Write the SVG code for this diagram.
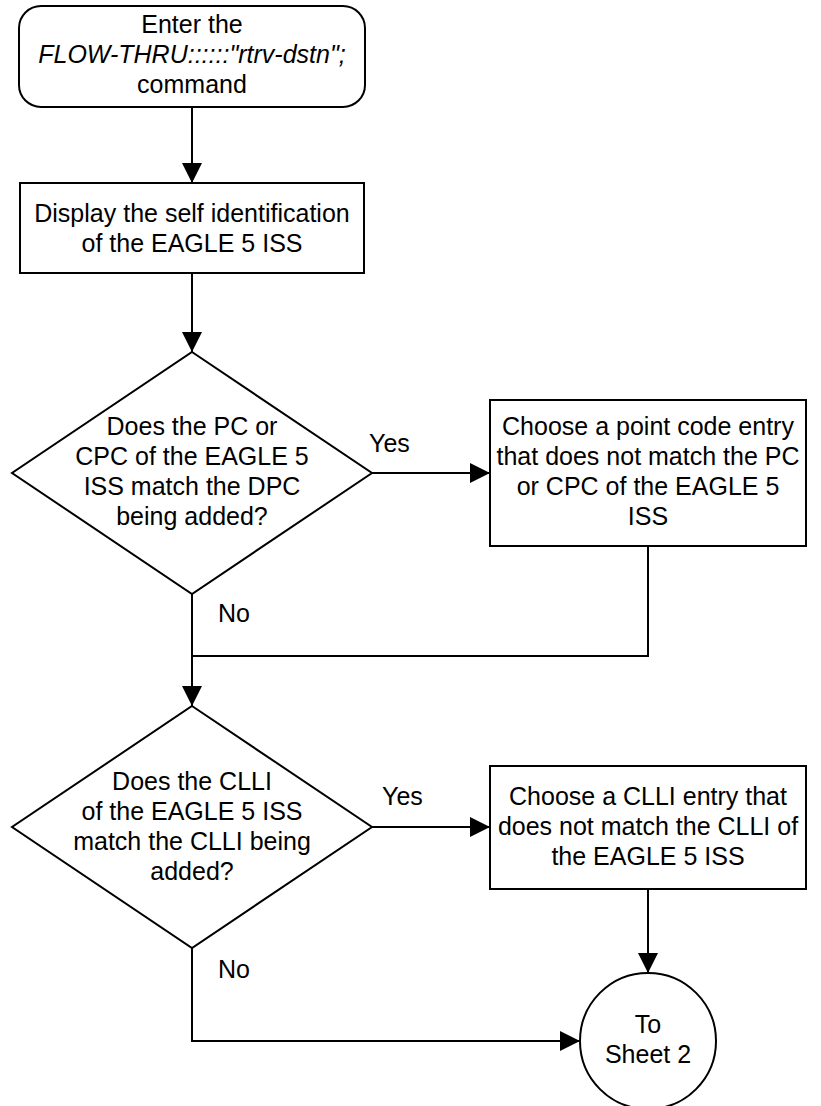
<svg xmlns="http://www.w3.org/2000/svg" width="821" height="1106" viewBox="0 0 821 1106">
<style>
.s{fill:#fff;stroke:#000;stroke-width:2}
.t{font-family:"Liberation Sans",Arial,sans-serif;font-size:25px;fill:#000;text-anchor:middle}
.l{font-family:"Liberation Sans",Arial,sans-serif;font-size:25px;fill:#000}
.c{fill:none;stroke:#000;stroke-width:2}
</style>
<defs>
<marker id="a" markerUnits="userSpaceOnUse" markerWidth="20" markerHeight="20" viewBox="0 0 20 20" refX="20" refY="10" orient="auto">
<path d="M0,0 L20,10 L0,20 Z" fill="#000"/>
</marker>
</defs>
<rect width="821" height="1106" fill="#fff"/>
<g id="connectors">
<line class="c" x1="192" y1="107" x2="192" y2="183" marker-end="url(#a)"/>
<line class="c" x1="192" y1="273" x2="192" y2="352" marker-end="url(#a)"/>
<line class="c" x1="372" y1="473" x2="490" y2="473" marker-end="url(#a)"/>
<polyline class="c" points="648,546 648,656 192,656"/>
<line class="c" x1="192" y1="594" x2="192" y2="706" marker-end="url(#a)"/>
<line class="c" x1="372" y1="827" x2="490" y2="827" marker-end="url(#a)"/>
<line class="c" x1="648" y1="889" x2="648" y2="973" marker-end="url(#a)"/>
<polyline class="c" points="192,948 192,1041 580,1041" marker-end="url(#a)"/>
<text class="l" x="369" y="452">Yes</text>
<text class="l" x="218" y="622">No</text>
<text class="l" x="382" y="805">Yes</text>
<text class="l" x="218" y="978">No</text>
</g>
<g id="start">
<rect class="s" x="19" y="6" width="346" height="101" rx="22" ry="22"/>
<text class="t" x="192" y="33">Enter the</text>
<text class="t" x="192" y="63" font-style="italic">FLOW-THRU::::::"rtrv-dstn";</text>
<text class="t" x="192" y="93">command</text>
</g>
<g id="display">
<rect class="s" x="20" y="183" width="344" height="90"/>
<text class="t" x="192" y="222">Display the self identification</text>
<text class="t" x="192" y="252">of the EAGLE 5 ISS</text>
</g>
<g id="decision1">
<polygon class="s" points="192,352 372,473 192,594 12,473"/>
<text class="t" x="192" y="435">Does the PC or</text>
<text class="t" x="192" y="465">CPC of the EAGLE 5</text>
<text class="t" x="192" y="495">ISS match the DPC</text>
<text class="t" x="192" y="525">being added?</text>
</g>
<g id="choosePC">
<rect class="s" x="490" y="400" width="316" height="146"/>
<text class="t" x="648" y="435">Choose a point code entry</text>
<text class="t" x="648" y="465">that does not match the PC</text>
<text class="t" x="648" y="495">or CPC of the EAGLE 5</text>
<text class="t" x="648" y="525">ISS</text>
</g>
<g id="decision2">
<polygon class="s" points="192,706 372,827 192,948 12,827"/>
<text class="t" x="192" y="790">Does the CLLI</text>
<text class="t" x="192" y="820">of the EAGLE 5 ISS</text>
<text class="t" x="192" y="850">match the CLLI being</text>
<text class="t" x="192" y="880">added?</text>
</g>
<g id="chooseCLLI">
<rect class="s" x="490" y="766" width="316" height="123"/>
<text class="t" x="648" y="805">Choose a CLLI entry that</text>
<text class="t" x="648" y="835">does not match the CLLI of</text>
<text class="t" x="648" y="865">the EAGLE 5 ISS</text>
</g>
<g id="sheet2">
<circle class="s" cx="648" cy="1041" r="68"/>
<text class="t" x="648" y="1033">To</text>
<text class="t" x="648" y="1063">Sheet 2</text>
</g>
</svg>
